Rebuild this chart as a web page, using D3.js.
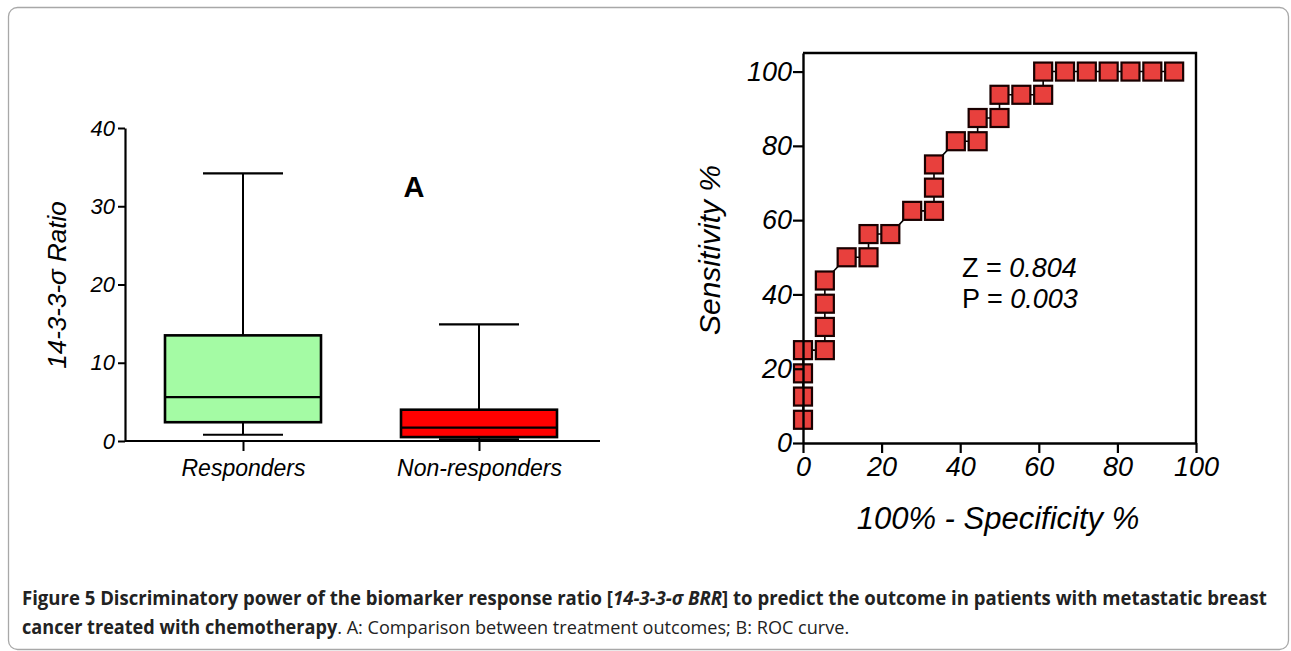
<!DOCTYPE html>
<html>
<head>
<meta charset="utf-8">
<script src="https://cdn.jsdelivr.net/npm/d3@7"></script>
<style>
  body { margin: 0; background: #fff; }
  svg { display: block; }
</style>
</head>
<body>
<div id="chart"></div>
<script>
// box plot data (panel A)
var groups = ["Responders", "Non-responders"];
var whiskerLow = [0.8, 0.2];
var q1 = [2.4, 0.5];
var median = [5.6, 1.7];
var q3 = [13.5, 4.0];
var whiskerHigh = [34.2, 14.9];
var boxColors = ["#a4fba4", "#ff0000"];
var ratioTicks = [0, 10, 20, 30, 40];

// ROC curve data (panel B)
var oneMinusSpec = [0, 0, 0, 0, 5.56, 5.56, 5.56, 5.56, 11.11, 16.67, 16.67, 22.22, 27.78, 33.33, 33.33,
    33.33, 38.89, 44.44, 44.44, 50, 50, 55.56, 61.11, 61.11, 66.67, 72.22, 77.78, 83.33, 88.89, 94.44];
var sensitivity = [6.25, 12.5, 18.75, 25, 25, 31.25, 37.5, 43.75, 50, 50, 56.25, 56.25, 62.5, 62.5, 68.75,
    75, 81.25, 81.25, 87.5, 87.5, 93.75, 93.75, 93.75, 100, 100, 100, 100, 100, 100, 100];
var rocTicks = [0, 20, 40, 60, 80, 100];

var w = 1291;
var h = 651;
var font = "'Liberation Sans', Arial, sans-serif";

var svg = d3.select("#chart")
    .append("svg")
    .attr("width", w)
    .attr("height", h);

// outer frame
svg.append("rect")
    .attr("x", 8.5).attr("y", 7.5)
    .attr("width", 1280).attr("height", 642)
    .attr("rx", 9)
    .attr("fill", "none")
    .attr("stroke", "#a8a8a8")
    .attr("stroke-width", 1.3);

// ---------- panel A: box plot ----------
var yA = d3.scaleLinear().domain([0, 40]).range([441, 128]);
var xA = d3.scalePoint().domain(groups).range([125, 597]).padding(0.5);
var boxW = 156;
var capW = 80;

var gA = svg.append("g");

var boxes = gA.selectAll("g.box")
    .data(groups)
    .enter()
    .append("g")
    .attr("class", "box");

// whisker line
boxes.append("line")
    .attr("x1", function (d) { return xA(d); })
    .attr("x2", function (d) { return xA(d); })
    .attr("y1", function (d, i) { return yA(whiskerLow[i]); })
    .attr("y2", function (d, i) { return yA(whiskerHigh[i]); })
    .attr("stroke", "#000").attr("stroke-width", 2);

// caps
[whiskerLow, whiskerHigh].forEach(function (arr) {
    boxes.append("line")
        .attr("x1", function (d) { return xA(d) - capW / 2; })
        .attr("x2", function (d) { return xA(d) + capW / 2; })
        .attr("y1", function (d, i) { return yA(arr[i]); })
        .attr("y2", function (d, i) { return yA(arr[i]); })
        .attr("stroke", "#000").attr("stroke-width", 2.2);
});

boxes.append("rect")
    .attr("x", function (d) { return xA(d) - boxW / 2; })
    .attr("y", function (d, i) { return yA(q3[i]); })
    .attr("width", boxW)
    .attr("height", function (d, i) { return yA(q1[i]) - yA(q3[i]); })
    .attr("fill", function (d, i) { return boxColors[i]; })
    .attr("stroke", "#000")
    .attr("stroke-width", 2.6);

boxes.append("line")
    .attr("x1", function (d) { return xA(d) - boxW / 2; })
    .attr("x2", function (d) { return xA(d) + boxW / 2; })
    .attr("y1", function (d, i) { return yA(median[i]); })
    .attr("y2", function (d, i) { return yA(median[i]); })
    .attr("stroke", "#000").attr("stroke-width", 2.2);

// axes A
var yAxisA = d3.axisLeft(yA).tickValues(ratioTicks).tickSize(7).tickPadding(3).tickSizeOuter(0);
var gyA = gA.append("g")
    .attr("transform", "translate(125,0)")
    .call(yAxisA);
gyA.select(".domain").attr("stroke-width", 2.2);
gyA.selectAll(".tick line").attr("stroke-width", 2);
gyA.selectAll("text")
    .attr("font-family", font).attr("font-size", "22px")
    .attr("font-style", "italic").attr("fill", "#000");

var xAxisA = d3.axisBottom(xA).tickSize(10).tickPadding(9).tickSizeOuter(0);
var gxA = gA.append("g")
    .attr("transform", "translate(0,441)")
    .call(xAxisA);
gxA.select(".domain").attr("d", "M125,0H600").attr("stroke-width", 2.2);
gxA.selectAll(".tick line").attr("stroke-width", 2);
gxA.selectAll("text")
    .attr("font-family", font).attr("font-size", "23px")
    .attr("font-style", "italic").attr("fill", "#000");

gA.append("text")
    .attr("transform", "translate(66,285) rotate(-90)")
    .attr("text-anchor", "middle")
    .attr("font-family", font).attr("font-size", "26px")
    .attr("font-style", "italic")
    .text("14-3-3-σ Ratio");

gA.append("text")
    .attr("x", 414).attr("y", 197)
    .attr("text-anchor", "middle")
    .attr("font-family", font).attr("font-size", "29px")
    .attr("font-weight", "bold")
    .text("A");

// ---------- panel B: ROC curve ----------
var xB = d3.scaleLinear().domain([0, 100]).range([803, 1196]);
var yB = d3.scaleLinear().domain([0, 105]).range([443, 53]);
var rocData = oneMinusSpec.map(function (v, i) { return { x: v, y: sensitivity[i] }; });
var mk = 18;

var gB = svg.append("g");

var line = d3.line()
    .x(function (d) { return xB(d.x); })
    .y(function (d) { return yB(d.y); });

gB.append("path")
    .datum(rocData)
    .attr("d", line)
    .attr("fill", "none")
    .attr("stroke", "#000")
    .attr("stroke-width", 1.6);

gB.selectAll("rect.pt")
    .data(rocData)
    .enter()
    .append("rect")
    .attr("class", "pt")
    .attr("x", function (d) { return xB(d.x) - mk / 2; })
    .attr("y", function (d) { return yB(d.y) - mk / 2; })
    .attr("width", mk)
    .attr("height", mk)
    .attr("fill", "#e8403d")
    .attr("stroke", "#1a0000")
    .attr("stroke-width", 2.2);

// frame top and right
gB.append("path")
    .attr("d", "M" + xB(0) + "," + yB(105) + "H" + xB(100) + "V" + yB(0))
    .attr("fill", "none")
    .attr("stroke", "#000")
    .attr("stroke-width", 2.4);

var yAxisB = d3.axisLeft(yB).tickValues(rocTicks).tickSize(10).tickPadding(1).tickSizeOuter(0);
var gyB = gB.append("g")
    .attr("transform", "translate(803,0)")
    .call(yAxisB);
gyB.select(".domain").attr("stroke-width", 2.4);
gyB.selectAll(".tick line").attr("stroke-width", 2.2);
gyB.selectAll("text")
    .attr("font-family", font).attr("font-size", "27px")
    .attr("font-style", "italic").attr("fill", "#000");

var xAxisB = d3.axisBottom(xB).tickValues(rocTicks).tickSize(10).tickPadding(4).tickSizeOuter(0);
var gxB = gB.append("g")
    .attr("transform", "translate(0,443)")
    .call(xAxisB);
gxB.select(".domain").attr("stroke-width", 2.4);
gxB.selectAll(".tick line").attr("stroke-width", 2.2);
gxB.selectAll("text")
    .attr("font-family", font).attr("font-size", "27px")
    .attr("font-style", "italic").attr("fill", "#000");

gB.append("text")
    .attr("transform", "translate(720,250) rotate(-90)")
    .attr("text-anchor", "middle")
    .attr("font-family", font).attr("font-size", "30px")
    .attr("font-style", "italic")
    .text("Sensitivity %");

gB.append("text")
    .attr("x", 998).attr("y", 529)
    .attr("text-anchor", "middle")
    .attr("font-family", font).attr("font-size", "31px")
    .attr("font-style", "italic")
    .text("100% - Specificity %");

var stats = [["Z = ", "0.804"], ["P = ", "0.003"]];
stats.forEach(function (s, i) {
    var t = gB.append("text")
        .attr("x", 962).attr("y", 277 + i * 31)
        .attr("font-family", font).attr("font-size", "27px");
    t.append("tspan").text(s[0]);
    t.append("tspan").attr("font-style", "italic").text(s[1]);
});

// ---------- caption ----------
var capFont = "'Open Sans', 'Noto Sans', sans-serif";

var c1 = svg.append("g");
var t1 = c1.append("text")
    .attr("font-family", capFont).attr("font-size", "19px")
    .attr("font-weight", "bold").attr("fill", "#222");
t1.append("tspan").text("Figure 5 Discriminatory power of the biomarker response ratio [");
t1.append("tspan").attr("font-style", "italic").text("14-3-3-σ BRR");
t1.append("tspan").text("] to predict the outcome in patients with metastatic breast");
var s1 = 1246 / t1.node().getComputedTextLength();
c1.attr("transform", "translate(22,605) scale(" + s1 + ",1)");

var c2 = svg.append("g");
var t2 = c2.append("text")
    .attr("font-family", capFont).attr("font-size", "19px").attr("fill", "#222");
t2.append("tspan").attr("font-weight", "bold").text("cancer treated with chemotherapy");
t2.append("tspan").text(". A: Comparison between treatment outcomes; B: ROC curve.");
var s2 = 828 / t2.node().getComputedTextLength();
c2.attr("transform", "translate(22,634) scale(" + s2 + ",1)");
</script>
</body>
</html>
